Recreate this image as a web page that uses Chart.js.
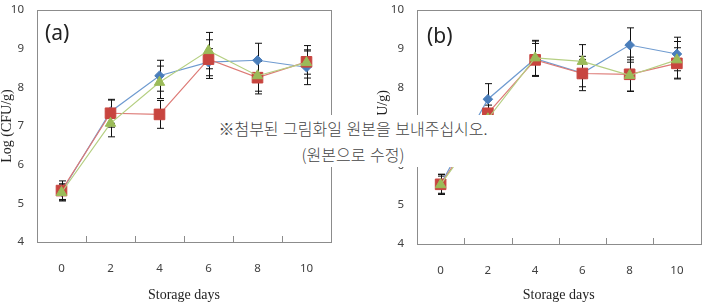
<!DOCTYPE html>
<html>
<head>
<meta charset="utf-8">
<script src="https://cdn.jsdelivr.net/npm/chart.js@4.4.1/dist/chart.umd.min.js"></script>
<style>
  body { margin: 0; background: #fff; width: 709px; height: 304px; overflow: hidden; position: relative; }
  .panel { position: absolute; top: -10px; }
  #note {
    position: absolute; left: 208px; top: 115px; width: 290px; height: 52px;
    background: #fff; color: #444; text-align: center;
    font-family: "Noto Sans CJK KR", sans-serif; font-size: 16px; font-weight: 300;
    line-height: 26px; word-spacing: 1px;
  }
</style>
</head>
<body>
<div class="panel" style="left:0px"><canvas id="chartA" width="355" height="314"></canvas></div>
<div class="panel" style="left:355px"><canvas id="chartB" width="354" height="314"></canvas></div>
<div id="note">※첨부된 그림화일 원본을 보내주십시오.<br>(원본으로 수정)</div>
<script>
// Storage days (x categories)
const days = ['0', '2', '4', '6', '8', '10'];

// Panel (a) means and error bars
const blueA = [5.30, 7.37, 8.30, 8.65, 8.70, 8.52];
const redA = [5.33, 7.33, 7.30, 8.73, 8.25, 8.66];
const greenA = [5.28, 7.07, 8.13, 8.95, 8.30, 8.64];
const blueAErr = [0.20, 0.30, 0.40, 0.35, 0.44, 0.45];
const redAErr = [0.25, 0.36, 0.36, 0.50, 0.42, 0.42];
const greenAErr = [0.22, 0.35, 0.42, 0.47, 0.40, 0.30];

// Panel (b) means and error bars
const blueB = [5.53, 7.71, 8.75, 8.38, 9.10, 8.87];
const redB = [5.53, 7.35, 8.72, 8.37, 8.35, 8.63];
const greenB = [5.52, 7.21, 8.77, 8.68, 8.32, 8.72];
const blueBErr = [0.25, 0.40, 0.45, 0.35, 0.44, 0.43];
const redBErr = [0.26, 0.35, 0.42, 0.44, 0.44, 0.40];
const greenBErr = [0.22, 0.35, 0.45, 0.43, 0.40, 0.47];

// marker colour, line colour
const BLUE = ['#4a7ebb', '#6f9bd0'];
const RED = ['#c8453f', '#dd7a76'];
const GREEN = ['#9bbb59', '#b5cf82'];

// frame, inner x ticks, error bars and panel letter
const extras = {
    id: 'extras',
    beforeDatasetsDraw(chart) {
        const ctx = chart.ctx;
        const yScale = chart.scales.y;
        ctx.save();
        ctx.strokeStyle = '#111';
        ctx.lineWidth = 1;
        chart.data.datasets.forEach((ds, i) => {
            const meta = chart.getDatasetMeta(i);
            meta.data.forEach((pt, j) => {
                const x = Math.round(pt.x) + 0.5;
                const top = yScale.getPixelForValue(ds.data[j] + ds.errors[j]);
                const bot = yScale.getPixelForValue(ds.data[j] - ds.errors[j]);
                ctx.beginPath();
                ctx.moveTo(x, top); ctx.lineTo(x, bot);
                ctx.moveTo(x - 3.5, top); ctx.lineTo(x + 3.5, top);
                ctx.moveTo(x - 3.5, bot); ctx.lineTo(x + 3.5, bot);
                ctx.stroke();
            });
        });
        ctx.restore();
    },
    afterDraw(chart, args, opts) {
        const ctx = chart.ctx;
        const a = chart.chartArea;
        const xScale = chart.scales.x;
        ctx.save();
        ctx.strokeStyle = '#8c8c8c';
        ctx.lineWidth = 1;
        ctx.strokeRect(Math.round(a.left) + 0.5, Math.round(a.top) + 0.5,
            Math.round(a.right - a.left), Math.round(a.bottom - a.top));
        ctx.beginPath();
        for (let i = 1; i < days.length; i++) {
            const x = Math.round(xScale.getPixelForValue(i - 0.5)) + 0.5;
            ctx.moveTo(x, a.bottom);
            ctx.lineTo(x, a.bottom - 6);
        }
        ctx.stroke();
        ctx.fillStyle = '#222';
        ctx.font = '21px "Noto Sans"';
        ctx.textBaseline = 'middle';
        ctx.fillText(opts.label, a.left + opts.dx, a.top + opts.dy);
        ctx.restore();
    }
};

function series(data, errors, color, style, radius, order) {
    return {
        data: data,
        errors: errors,
        borderColor: color[1],
        backgroundColor: color[0],
        borderWidth: 1.2,
        pointStyle: style,
        pointRadius: radius,
        pointHoverRadius: radius,
        pointBackgroundColor: color[0],
        pointBorderColor: color[0],
        pointBorderWidth: 1,
        tension: 0,
        order: order
    };
}

function drawPanel(id, blue, red, green, blueErr, redErr, greenErr, cfg) {
    new Chart(document.getElementById(id), {
        type: 'line',
        data: {
            labels: days,
            datasets: [
                series(blue, blueErr, BLUE, 'rectRot', 4.8, 3),
                series(red, redErr, RED, 'rect', 7.5, 2),
                series(green, greenErr, GREEN, 'triangle', 6, 1)
            ]
        },
        options: {
            responsive: false,
            animation: false,
            layout: { padding: { left: 0, right: cfg.right, top: cfg.top, bottom: 0 } },
            plugins: {
                legend: { display: false },
                tooltip: { enabled: false },
                extras: { label: cfg.label, dx: cfg.dx, dy: cfg.dy }
            },
            scales: {
                x: {
                    offset: true,
                    grid: { display: false, drawTicks: false },
                    border: { display: false },
                    ticks: { color: '#404040', font: { family: 'Noto Sans', size: 11.5 }, padding: 20 },
                    title: {
                        display: true, text: 'Storage days', color: '#222',
                        font: { family: 'Liberation Serif', size: 14, lineHeight: 1.2 },
                        padding: 0
                    },
                    afterFit(s) { s.height = cfg.xh; }
                },
                y: {
                    min: 4, max: 10,
                    grid: { display: false, drawTicks: false },
                    border: { display: false },
                    ticks: { stepSize: 1, color: '#404040', font: { family: 'Noto Sans', size: 11.5 }, padding: 13 },
                    title: {
                        display: true, text: 'Log (CFU/g)', color: '#222',
                        font: { family: 'Liberation Serif', size: 14, lineHeight: 1 },
                        padding: { top: cfg.tpad, bottom: 0 }
                    },
                    afterFit(s) { s.width = cfg.yw; }
                }
            }
        },
        plugins: [extras]
    });
}

window.onload = function() {
    drawPanel('chartA', blueA, redA, greenA, blueAErr, redAErr, greenAErr,
        { right: 24, top: 20, xh: 62, yw: 37, tpad: 0, label: '(a)', dx: 8, dy: 24 });
    drawPanel('chartB', blueB, redB, greenB, blueBErr, redBErr, greenBErr,
        { right: 4, top: 15, xh: 60, yw: 62, tpad: 21, label: '(b)', dx: 10, dy: 27 });
};
</script>
</body>
</html>
